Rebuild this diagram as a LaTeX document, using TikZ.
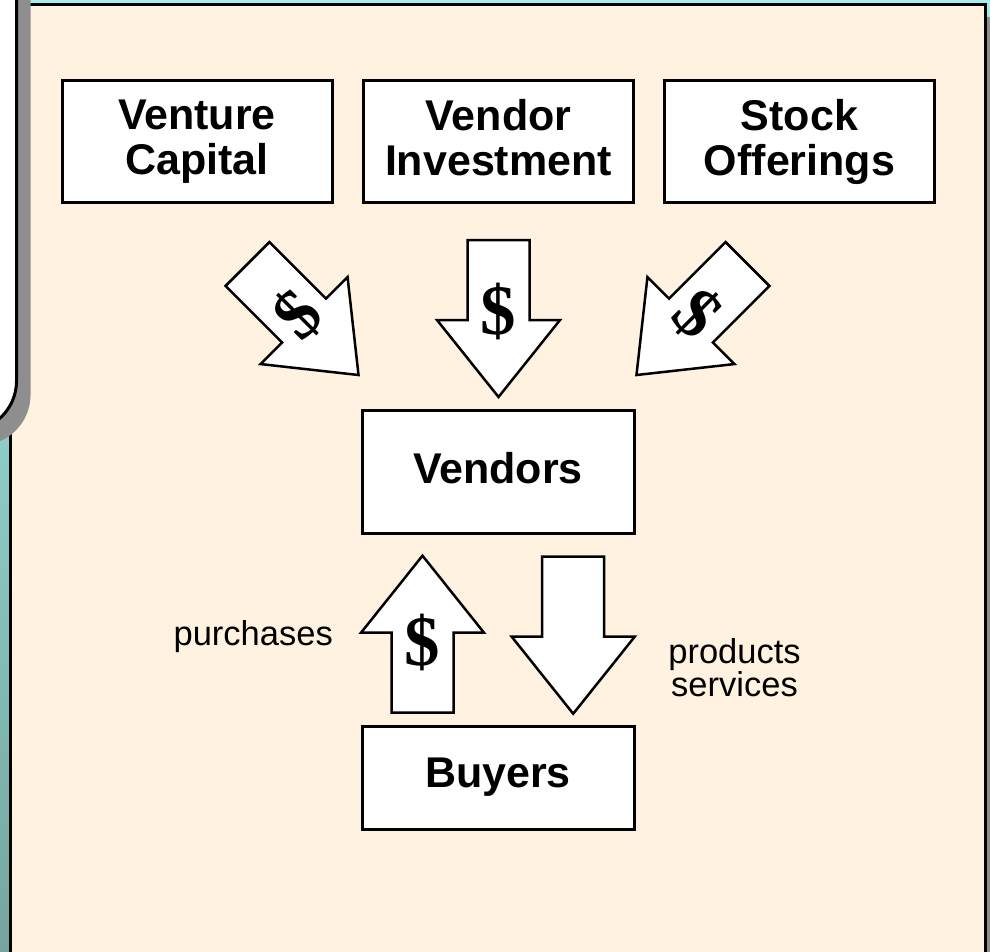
\documentclass[tikz,border=0pt]{standalone}
\usepackage{fontspec}
\setmainfont{Liberation Sans}
\newfontfamily\dollarfont{Liberation Serif}
\definecolor{cream}{HTML}{FFF2E0}
\definecolor{shadowgray}{HTML}{8E8E8E}
\definecolor{tealtop}{HTML}{A2EEEC}
\definecolor{tealbot}{HTML}{76A59E}
\begin{document}
\begin{tikzpicture}[x=1pt,y=-1pt,
  box/.style={draw=black, fill=white, line width=3pt, inner sep=0pt, outer sep=0pt, align=center,
    font=\fontsize{43}{45}\selectfont\bfseries},
  blockarrow/.style={draw=black, fill=white, line width=2.5pt, line join=miter},
  dollar/.style={inner sep=0pt, font=\dollarfont\fontsize{71}{71}\selectfont\bfseries},
  lbl/.style={inner sep=0pt, font=\fontsize{34.5}{33}\selectfont, align=center}]
\useasboundingbox (0,0) rectangle (990,951);
\clip (0,0) rectangle (990,951);
% background
\shade[top color=tealtop, bottom color=tealbot] (0,0) rectangle (990,951);
% cream panel with shadow
\fill[shadowgray] (24,17) rectangle (1010,990);
\filldraw[fill=cream, draw=black, line width=3pt] (10.8,4.2) rectangle (985.5,990);
% rounded panel at the left edge with shadow
\fill[shadowgray, rounded corners=50pt] (-150,-150) rectangle (30.5,445);
\filldraw[fill=white, draw=black, line width=3pt, rounded corners=50pt] (-150,-150) rectangle (16.5,431);
% boxes
\node[box, minimum width=270pt, minimum height=122.5pt] (vc) at (197,141.7) {Venture\\Capital\vphantom{p}};
\node[box, minimum width=270pt, minimum height=122.5pt] (vi) at (498.5,141.7) {Vendor\\Investment\vphantom{p}};
\node[box, minimum width=270pt, minimum height=122.5pt] (so) at (799.5,141.7) {Stock\\Offerings\vphantom{p}};
\node[box, minimum width=272pt, minimum height=123.5pt] (vendors) at (498,472) {Vendors\vphantom{p}};
\node[box, minimum width=272pt, minimum height=103pt] (buyers) at (498,777.5) {Buyers\vphantom{p}};
% block arrows
\def\barrow{(-31,0) -- (31,0) -- (31,80) -- (61.5,80) -- (0,157) -- (-61.5,80) -- (-31,80) -- cycle}
\begin{scope}[shift={(247.5,264)}, rotate=45]
  \draw[blockarrow] \barrow;
  \node[dollar, transform shape] (d1) at (0,71) {\$};
\end{scope}
\begin{scope}[shift={(498.5,240)}]
  \draw[blockarrow] \barrow;
  \node[dollar] (d2) at (0,71) {\$};
\end{scope}
\begin{scope}[shift={(747.5,264)}, rotate=-45]
  \draw[blockarrow] \barrow;
  \node[dollar, transform shape] (d3) at (0,71) {\$};
\end{scope}
\begin{scope}[shift={(422.5,712.7)}, rotate=180]
  \draw[blockarrow] \barrow;
  \node[dollar] (d4) at (0,70) {\$};
\end{scope}
\begin{scope}[shift={(573.2,556.7)}]
  \draw[blockarrow] \barrow;
\end{scope}
% labels
\node[lbl, anchor=base east] (purch) at (333,645) {purchases};
\node[lbl] (prod) at (734.5,667.5) {products\\services};
\end{tikzpicture}
\end{document}
